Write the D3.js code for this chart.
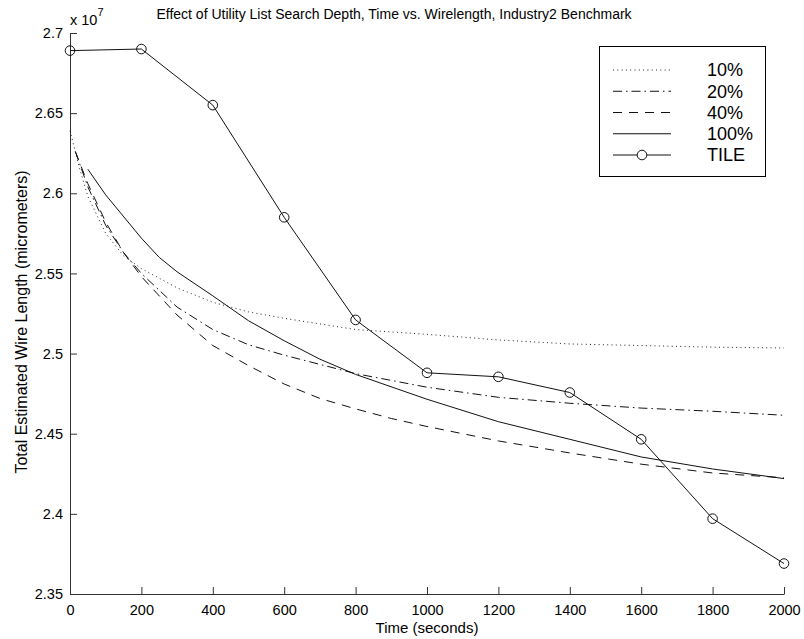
<!DOCTYPE html>
<html>
<head>
<meta charset="utf-8">
<script src="https://cdn.jsdelivr.net/npm/d3@7"></script>
<style>
  html, body { margin: 0; padding: 0; background: #fff; }
  svg { display: block; font-family: "Liberation Sans", Arial, Helvetica, sans-serif; }
</style>
</head>
<body>
<svg id="chart" width="804" height="639"></svg>
<script>
// Search-depth runs (time in seconds, wirelength in units of 1e7 micrometers)
const time10 = [0, 25, 50, 100, 150, 200, 300, 400, 500, 600, 800, 1000, 1200, 1400, 1600, 1800, 2000];
const wl10   = [2.639, 2.617, 2.598, 2.575, 2.561, 2.553, 2.541, 2.532, 2.526, 2.522, 2.515, 2.512, 2.5085, 2.506, 2.505, 2.504, 2.5035];

const time20 = [15, 50, 100, 150, 200, 300, 400, 500, 600, 800, 1000, 1200, 1400, 1600, 1800, 2000];
const wl20   = [2.626, 2.604, 2.580, 2.563, 2.550, 2.529, 2.515, 2.5055, 2.499, 2.4875, 2.479, 2.4727, 2.469, 2.466, 2.464, 2.4615];

const time40 = [15, 50, 100, 150, 200, 300, 400, 500, 600, 700, 800, 900, 1000, 1200, 1400, 1600, 1800, 2000];
const wl40   = [2.626, 2.606, 2.582, 2.563, 2.548, 2.524, 2.505, 2.4925, 2.481, 2.472, 2.4655, 2.4595, 2.4545, 2.4455, 2.438, 2.431, 2.4255, 2.4225];

const time100 = [50, 100, 200, 250, 300, 400, 500, 600, 700, 800, 1000, 1200, 1400, 1600, 1800, 2000];
const wl100   = [2.615, 2.599, 2.572, 2.56, 2.551, 2.536, 2.5205, 2.508, 2.4965, 2.487, 2.4715, 2.4575, 2.4465, 2.4355, 2.428, 2.422];

const timeTile = [0, 200, 400, 600, 800, 1000, 1200, 1400, 1600, 1800, 2000];
const wlTile   = [2.689, 2.690, 2.655, 2.585, 2.521, 2.488, 2.4855, 2.4757, 2.4465, 2.397, 2.369];

const xTicks = [0, 200, 400, 600, 800, 1000, 1200, 1400, 1600, 1800, 2000];
const yTicks = [2.35, 2.4, 2.45, 2.5, 2.55, 2.6, 2.65, 2.7];
const yTickLabels = ["2.35", "2.4", "2.45", "2.5", "2.55", "2.6", "2.65", "2.7"];

const seriesNames = ["10%", "20%", "40%", "100%", "TILE"];

const titleText = "Effect of Utility List Search Depth, Time vs. Wirelength, Industry2 Benchmark";
const xLabelText = "Time (seconds)";
const yLabelText = "Total Estimated Wire Length (micrometers)";

// ---- layout ----
const svg = d3.select("#chart");
const plotLeft = 70, plotRight = 784, plotTop = 33, plotBottom = 594;

const x = d3.scaleLinear().domain([0, 2000]).range([plotLeft, plotRight]);
const y = d3.scaleLinear().domain([2.35, 2.7]).range([plotBottom, plotTop]);

const styles = [
  { dash: "1,3.3", color: "#222", width: 1 },
  { dash: "9,4,1.5,4", color: "#111", width: 1 },
  { dash: "9,7", color: "#111", width: 1 },
  { dash: null, color: "#111", width: 1 },
  { dash: null, color: "#111", width: 1 }
];

const series = [
  d3.zip(time10, wl10),
  d3.zip(time20, wl20),
  d3.zip(time40, wl40),
  d3.zip(time100, wl100),
  d3.zip(timeTile, wlTile)
];

// ---- axes ----
const axisColor = "#333";
const xAxis = d3.axisBottom(x).tickValues(xTicks).tickSizeInner(-7).tickSizeOuter(0).tickPadding(11)
  .tickFormat(d3.format("d"));
const gx = svg.append("g").attr("transform", `translate(0,${plotBottom})`).call(xAxis);
gx.select(".domain").attr("stroke", axisColor);
gx.selectAll(".tick line").attr("stroke", axisColor);
gx.selectAll(".tick text").attr("font-size", 14.5).attr("fill", "#000")
  .attr("font-family", "Liberation Sans, Arial, sans-serif");

const yAxis = d3.axisLeft(y).tickValues(yTicks).tickSizeInner(-7).tickSizeOuter(0).tickPadding(7)
  .tickFormat((d, i) => yTickLabels[i]);
const gy = svg.append("g").attr("transform", `translate(${plotLeft},0)`).call(yAxis);
gy.select(".domain").attr("stroke", axisColor);
gy.selectAll(".tick line").attr("stroke", axisColor);
gy.selectAll(".tick text").attr("font-size", 14.5).attr("fill", "#000")
  .attr("font-family", "Liberation Sans, Arial, sans-serif");

// exponent label
const expo = svg.append("text").attr("x", plotLeft).attr("y", 25).attr("font-size", 14.5);
expo.append("tspan").text("x 10");
expo.append("tspan").attr("dy", -9).attr("font-size", 11).text("7");

// ---- series lines ----
const line = d3.line().x(d => x(d[0])).y(d => y(d[1]));
series.forEach((s, i) => {
  const st = styles[i];
  svg.append("path").datum(s)
    .attr("d", line)
    .attr("fill", "none")
    .attr("stroke", st.color)
    .attr("stroke-width", st.width)
    .attr("stroke-dasharray", st.dash);
});

// TILE markers
svg.append("g").selectAll("circle").data(series[4]).join("circle")
  .attr("cx", d => x(d[0])).attr("cy", d => y(d[1])).attr("r", 4.8)
  .attr("fill", "none").attr("stroke", "#111").attr("stroke-width", 1);

// ---- text ----
svg.append("text").attr("x", 394).attr("y", 19).attr("text-anchor", "middle")
  .attr("font-size", 14).text(titleText);
svg.append("text").attr("x", (plotLeft + plotRight) / 2).attr("y", 633).attr("text-anchor", "middle")
  .attr("font-size", 15).text(xLabelText);
svg.append("text").attr("transform", `translate(27,322) rotate(-90)`).attr("text-anchor", "middle")
  .attr("font-size", 16).text(yLabelText);

// ---- legend ----
const lg = svg.append("g");
lg.append("rect").attr("x", 599.5).attr("y", 46.5).attr("width", 166).attr("height", 130)
  .attr("fill", "#fff").attr("stroke", "#000").attr("stroke-width", 1);
seriesNames.forEach((name, i) => {
  const cy = 70 + i * 21.25;
  const st = styles[i];
  lg.append("line").attr("x1", 613).attr("x2", 671).attr("y1", cy).attr("y2", cy)
    .attr("stroke", st.color).attr("stroke-width", st.width).attr("stroke-dasharray", st.dash);
  if (i === 4) {
    lg.append("circle").attr("cx", 642).attr("cy", cy).attr("r", 4.8)
      .attr("fill", "#fff").attr("stroke", "#111");
  }
  lg.append("text").attr("x", 707).attr("y", cy).attr("dy", "0.36em")
    .attr("font-size", 18).text(name);
});
</script>
</body>
</html>
